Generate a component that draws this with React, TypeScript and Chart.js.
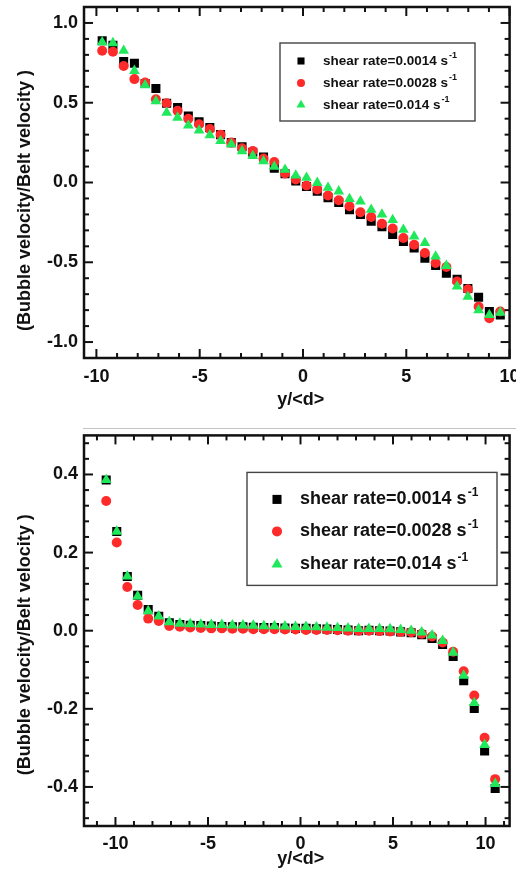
import React, { useEffect, useRef } from 'react';
import { Chart, registerables } from 'chart.js';

Chart.register(...registerables);

// ---------------- DATA ----------------
const LEGEND_LABELS = ['shear rate=0.0014 s', 'shear rate=0.0028 s', 'shear rate=0.014 s'];
const LEGEND_SUP = '-1';
const Y_TITLE = '(Bubble velocity/Belt velocity )';
const X_TITLE = 'y/<d>';

// top panel
const TOP_X = [-9.72, -9.2, -8.68, -8.16, -7.64, -7.12, -6.6, -6.07, -5.55, -5.03, -4.51, -3.99, -3.47, -2.95, -2.43, -1.91, -1.39, -0.87, -0.35, 0.17, 0.69, 1.21, 1.73, 2.25, 2.78, 3.3, 3.82, 4.34, 4.86, 5.38, 5.9, 6.42, 6.94, 7.46, 7.98, 8.5, 9.02, 9.55];
const TOP_BLACK = [0.889, 0.86, 0.759, 0.748, 0.62, 0.589, 0.497, 0.47, 0.417, 0.38, 0.344, 0.3, 0.25, 0.224, 0.19, 0.16, 0.09, 0.055, 0.01, -0.025, -0.055, -0.096, -0.125, -0.17, -0.2, -0.243, -0.277, -0.325, -0.369, -0.411, -0.474, -0.52, -0.568, -0.606, -0.665, -0.719, -0.809, -0.83];
const TOP_RED = [0.826, 0.82, 0.73, 0.648, 0.627, 0.522, 0.497, 0.449, 0.4, 0.365, 0.335, 0.3, 0.25, 0.215, 0.197, 0.15, 0.128, 0.057, 0.019, -0.019, -0.044, -0.082, -0.111, -0.149, -0.187, -0.216, -0.259, -0.288, -0.348, -0.39, -0.442, -0.505, -0.53, -0.62, -0.669, -0.778, -0.851, -0.809];
const TOP_GREEN = [0.88, 0.874, 0.826, 0.7, 0.61, 0.51, 0.438, 0.407, 0.358, 0.327, 0.296, 0.26, 0.24, 0.197, 0.166, 0.134, 0.1, 0.08, 0.044, 0.03, -0.002, -0.033, -0.055, -0.103, -0.118, -0.17, -0.2, -0.235, -0.296, -0.338, -0.379, -0.463, -0.522, -0.652, -0.715, -0.8, -0.83, -0.815];
const TOP_X_TICKS = [-10, -5, 0, 5, 10];
const TOP_Y_TICKS = [-1.0, -0.5, 0.0, 0.5, 1.0];

// bottom panel
const BOT_X = [-10.5, -9.93, -9.36, -8.8, -8.23, -7.66, -7.09, -6.52, -5.96, -5.39, -4.82, -4.25, -3.68, -3.11, -2.55, -1.98, -1.41, -0.84, -0.27, 0.3, 0.86, 1.43, 2.0, 2.57, 3.14, 3.7, 4.27, 4.84, 5.41, 5.98, 6.55, 7.11, 7.68, 8.25, 8.82, 9.39, 9.95, 10.52];
const BOT_BLACK = [0.386, 0.254, 0.139, 0.091, 0.054, 0.037, 0.02, 0.016, 0.014, 0.013, 0.012, 0.011, 0.01, 0.01, 0.009, 0.008, 0.008, 0.007, 0.006, 0.006, 0.005, 0.004, 0.003, 0.002, 0.0, 0.001, 0.0, -0.001, -0.003, -0.005, -0.01, -0.02, -0.035, -0.066, -0.128, -0.199, -0.308, -0.404];
const BOT_RED = [0.332, 0.226, 0.112, 0.066, 0.031, 0.025, 0.012, 0.01, 0.008, 0.007, 0.006, 0.006, 0.005, 0.005, 0.004, 0.004, 0.004, 0.003, 0.003, 0.002, 0.002, 0.002, 0.001, 0.0, 0.0, 0.0, -0.001, -0.002, -0.003, -0.004, -0.008, -0.015, -0.03, -0.054, -0.104, -0.166, -0.274, -0.38];
const BOT_GREEN = [0.386, 0.254, 0.139, 0.088, 0.05, 0.037, 0.022, 0.018, 0.017, 0.016, 0.015, 0.015, 0.014, 0.014, 0.013, 0.012, 0.012, 0.011, 0.01, 0.01, 0.009, 0.008, 0.007, 0.006, 0.005, 0.005, 0.005, 0.004, 0.002, 0.0, -0.004, -0.012, -0.026, -0.056, -0.115, -0.185, -0.292, -0.392];
const BOT_X_TICKS = [-10, -5, 0, 5, 10];
const BOT_Y_TICKS = [-0.4, -0.2, 0.0, 0.2, 0.4];

// ---------------- STYLE ----------------
const FONT_FAMILY = '"Liberation Sans", Arial, sans-serif';
const COLORS = ['#000000', '#ff2a2a', '#1fe85a'];
const STYLES = ['rect', 'circle', 'triangle'];
const DRAW_ORDER = [2, 1, 0]; // green on top, then red, then black

function drawMarker(ctx: CanvasRenderingContext2D, style: string, x: number, y: number, r: number) {
  ctx.beginPath();
  if (style === 'rect') {
    const s = r * Math.SQRT1_2;
    ctx.rect(x - s, y - s, 2 * s, 2 * s);
  } else if (style === 'circle') {
    ctx.arc(x, y, r, 0, Math.PI * 2);
  } else {
    const a = (Math.PI * 2) / 3;
    ctx.moveTo(x, y - r);
    ctx.lineTo(x + Math.sin(a) * r, y - Math.cos(a) * r);
    ctx.lineTo(x + Math.sin(2 * a) * r, y - Math.cos(2 * a) * r);
    ctx.closePath();
  }
  ctx.fill();
}

const framePlugin = {
  id: 'frameTicks',
  afterDatasetsDraw(chart: any, _args: any, o: any) {
    const { ctx, chartArea: a, scales } = chart;
    const xs = scales.x;
    const ys = scales.y;
    ctx.save();
    ctx.strokeStyle = '#111';
    ctx.lineCap = 'butt';
    ctx.lineWidth = o.tickWidth;
    const line = (x1: number, y1: number, x2: number, y2: number) => {
      ctx.beginPath();
      ctx.moveTo(x1, y1);
      ctx.lineTo(x2, y2);
      ctx.stroke();
    };
    const isMajor = (v: number, m: number) => Math.abs(v / m - Math.round(v / m)) < 1e-6;
    for (let k = Math.ceil(xs.min / o.xMinor - 1e-9); k * o.xMinor <= xs.max + 1e-9; k++) {
      const v = k * o.xMinor;
      const len = isMajor(v, o.xMajor) ? o.majorLen : o.minorLen;
      const p = xs.getPixelForValue(v);
      line(p, a.bottom, p, a.bottom - len);
      line(p, a.top, p, a.top + len);
    }
    for (let k = Math.ceil(ys.min / o.yMinor - 1e-9); k * o.yMinor <= ys.max + 1e-9; k++) {
      const v = k * o.yMinor;
      const len = isMajor(v, o.yMajor) ? o.majorLen : o.minorLen;
      const p = ys.getPixelForValue(v);
      line(a.left, p, a.left + len, p);
      line(a.right, p, a.right - len, p);
    }
    ctx.lineWidth = o.frameWidth;
    ctx.strokeRect(a.left, a.top, a.right - a.left, a.bottom - a.top);

    // legend
    const L = o.legend;
    const bx = a.left + L.left;
    const by = a.top + L.top;
    ctx.fillStyle = '#ffffff';
    ctx.fillRect(bx, by, L.width, L.height);
    ctx.strokeStyle = '#444';
    ctx.lineWidth = 1.4;
    ctx.strokeRect(bx, by, L.width, L.height);
    chart.data.datasets.forEach((ds: any, i: number) => {
      const yy = by + L.rows[i];
      ctx.fillStyle = ds.backgroundColor;
      drawMarker(ctx, ds.pointStyle, bx + L.markerX, yy, L.markerR[i]);
      ctx.fillStyle = '#111';
      ctx.textBaseline = 'middle';
      ctx.textAlign = 'left';
      ctx.font = `bold ${L.fontSize}px ${FONT_FAMILY}`;
      ctx.fillText(ds.label, bx + L.textX, yy);
      const w = ctx.measureText(ds.label).width;
      ctx.font = `bold ${L.supSize}px ${FONT_FAMILY}`;
      ctx.fillText(LEGEND_SUP, bx + L.textX + w + 1, yy - L.supRise);
    });

    // axis titles
    ctx.fillStyle = '#111';
    ctx.font = `bold ${o.titleSize}px ${FONT_FAMILY}`;
    ctx.textAlign = 'center';
    ctx.textBaseline = 'middle';
    ctx.fillText(X_TITLE, (a.left + a.right) / 2 + o.xTitle.dx, a.bottom + o.xTitle.dy);
    ctx.save();
    ctx.translate(o.yTitle.x, (a.top + a.bottom) / 2 + o.yTitle.dy);
    ctx.rotate(-Math.PI / 2);
    ctx.fillText(Y_TITLE, 0, 0);
    ctx.restore();
    ctx.restore();
  },
};

type Panel = {
  width: number;
  height: number;
  x: number[];
  series: number[][];
  xMin: number;
  xMax: number;
  yMin: number;
  yMax: number;
  xTicks: number[];
  yTicks: number[];
  pad: { top: number; right: number };
  yAxisWidth: number;
  xAxisHeight: number;
  xTickPad: number;
  radii: number[];
  frame: any;
};

function buildConfig(p: Panel): any {
  const tickFont = { family: FONT_FAMILY, size: 18, weight: 'bold' as const };
  return {
    type: 'scatter',
    data: {
      datasets: p.series.map((vals, i) => ({
        label: LEGEND_LABELS[i],
        data: p.x.map((x, j) => ({ x, y: vals[j] })),
        pointStyle: STYLES[i],
        pointRadius: p.radii[i],
        backgroundColor: COLORS[i],
        borderColor: COLORS[i],
        borderWidth: 0,
        order: DRAW_ORDER[i],
      })),
    },
    options: {
      animation: false,
      responsive: false,
      devicePixelRatio: 1,
      events: [],
      layout: { padding: { top: p.pad.top, right: p.pad.right, left: 0, bottom: 0 } },
      plugins: {
        legend: { display: false },
        tooltip: { enabled: false },
        frameTicks: p.frame,
      },
      scales: {
        x: {
          type: 'linear',
          min: p.xMin,
          max: p.xMax,
          grid: { display: false, drawTicks: false },
          border: { display: false },
          ticks: {
            font: tickFont,
            color: '#111',
            padding: p.xTickPad,
            maxRotation: 0,
            autoSkip: false,
            callback: (v: number) => String(v),
          },
          afterBuildTicks: (s: any) => {
            s.ticks = p.xTicks.map((v) => ({ value: v }));
          },
          afterFit: (s: any) => {
            s.height = p.xAxisHeight;
            s.paddingLeft = 0;
            s.paddingRight = 0;
          },
        },
        y: {
          type: 'linear',
          min: p.yMin,
          max: p.yMax,
          grid: { display: false, drawTicks: false },
          border: { display: false },
          ticks: {
            font: tickFont,
            color: '#111',
            padding: 6,
            autoSkip: false,
            callback: (v: number) => v.toFixed(1),
          },
          afterBuildTicks: (s: any) => {
            s.ticks = p.yTicks.map((v) => ({ value: v }));
          },
          afterFit: (s: any) => {
            s.width = p.yAxisWidth;
            s.paddingTop = 0;
            s.paddingBottom = 0;
          },
        },
      },
    },
    plugins: [framePlugin],
  };
}

const TOP_PANEL: Panel = {
  width: 516,
  height: 429,
  x: TOP_X,
  series: [TOP_BLACK, TOP_RED, TOP_GREEN],
  xMin: -10.6,
  xMax: 10.0,
  yMin: -1.1,
  yMax: 1.1,
  xTicks: TOP_X_TICKS,
  yTicks: TOP_Y_TICKS,
  pad: { top: 7, right: 5 },
  yAxisWidth: 84,
  xAxisHeight: 71,
  xTickPad: 8,
  radii: [6.4, 5, 6.2],
  frame: {
    xMinor: 1, xMajor: 5, yMinor: 0.1, yMajor: 0.5,
    majorLen: 9, minorLen: 5, tickWidth: 2, frameWidth: 2.5,
    titleSize: 18,
    xTitle: { dx: 4, dy: 42 },
    yTitle: { x: 25, dy: 18 },
    legend: {
      left: 196, top: 36, width: 195, height: 78,
      rows: [18, 40, 62], markerX: 21, textX: 43,
      markerR: [5, 4, 5.2], fontSize: 13.5, supSize: 9, supRise: 5,
    },
  },
};

const BOT_PANEL: Panel = {
  width: 516,
  height: 449,
  x: BOT_X,
  series: [BOT_BLACK, BOT_RED, BOT_GREEN],
  xMin: -11.7,
  xMax: 11.3,
  yMin: -0.5,
  yMax: 0.5,
  xTicks: BOT_X_TICKS,
  yTicks: BOT_Y_TICKS,
  pad: { top: 4, right: 4 },
  yAxisWidth: 84,
  xAxisHeight: 52,
  xTickPad: 7,
  radii: [6.4, 5, 6.3],
  frame: {
    xMinor: 1, xMajor: 5, yMinor: 0.04, yMajor: 0.2,
    majorLen: 9, minorLen: 5, tickWidth: 2, frameWidth: 2.5,
    titleSize: 18,
    xTitle: { dx: 4, dy: 33 },
    yTitle: { x: 25, dy: 14 },
    legend: {
      left: 163, top: 37, width: 250, height: 113,
      rows: [27, 59, 92], markerX: 30, textX: 53,
      markerR: [6.4, 5, 6.3], fontSize: 18, supSize: 12, supRise: 7,
    },
  },
};

function ChartPanel({ panel, top }: { panel: Panel; top: number }) {
  const ref = useRef<HTMLCanvasElement | null>(null);
  useEffect(() => {
    if (!ref.current) return;
    const chart = new Chart(ref.current, buildConfig(panel));
    return () => chart.destroy();
  }, [panel]);
  return (
    <canvas
      ref={ref}
      width={panel.width}
      height={panel.height}
      style={{ position: 'absolute', left: 0, top, width: panel.width, height: panel.height }}
    />
  );
}

export default function App() {
  useEffect(() => {
    document.body.style.margin = '0';
    document.body.style.background = '#ffffff';
  }, []);
  return (
    <div style={{ position: 'relative', width: 516, height: 878, background: '#fff', overflow: 'hidden' }}>
      <ChartPanel panel={TOP_PANEL} top={0} />
      <div style={{ position: 'absolute', left: 83, top: 428, width: 433, height: 1, background: '#c4c4c4' }} />
      <ChartPanel panel={BOT_PANEL} top={429} />
    </div>
  );
}
